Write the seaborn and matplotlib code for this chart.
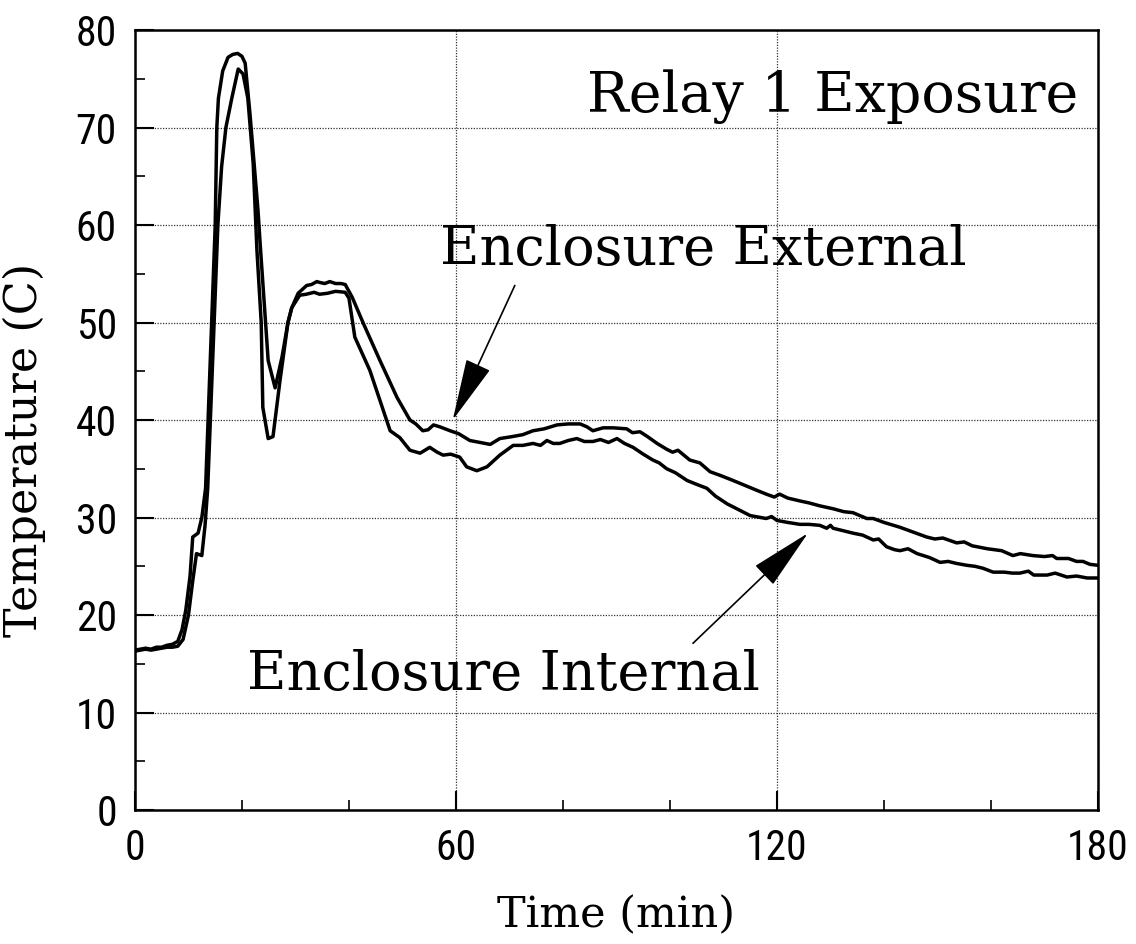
import pandas as pd
import seaborn as sns
import matplotlib.pyplot as plt
from matplotlib.ticker import MultipleLocator

# Enclosure External probe (min, C)
ext_time = [0, 1, 2, 3, 4, 5, 6, 7, 8, 8.8, 9.5, 10.3, 10.8, 11.8, 12.5, 13.2, 14, 15, 15.3, 15.6,
            16.4, 17.4, 18.3, 19.2, 20, 20.6, 21.5, 23, 23.4, 24.9, 26.2, 27.5, 28.6, 29.3, 30.5,
            31.5, 32.1, 33, 34, 34.6, 35.5, 36.4, 37.5, 38.5, 39.3, 40.6, 42.7, 45.8, 49, 51.4,
            52.5, 53.8, 54.8, 55.8, 57, 58.9, 60.5, 62.6, 64.5, 66.4, 68.2, 70.5, 72.5, 74.4, 76.5,
            78.9, 81, 83.2, 84.5, 85.6, 87.5, 89.4, 91.9, 93, 94.4, 95.8, 97.6, 99.4, 100.5, 101.5,
            103.7, 105.6, 107.5, 109.5, 111.8, 114, 116.2, 118, 119.5, 120.5, 122, 124.3, 126, 128,
            130.5, 132.5, 134.2, 136.8, 138, 140, 143, 145.5, 148, 149.5, 151, 153.6, 155, 156.5,
            159.3, 162, 164.1, 165.5, 167.8, 170, 171.5, 172.3, 174.5, 176, 177.2, 178.5, 180]
ext_temp = [16.4, 16.5, 16.6, 16.5, 16.7, 16.7, 16.9, 17.0, 17.3, 18.5, 20.5, 24, 28.0, 28.4, 30, 33, 45, 60, 70, 73,
            75.8, 77.2, 77.5, 77.6, 77.3, 76.6, 71.4, 61.5, 58.1, 46.1, 43.3, 46.5, 50, 51.5, 53.0,
            53.5, 53.8, 53.9, 54.2, 54.1, 54.0, 54.2, 54.0, 54.0, 53.9, 52.6, 49.9, 46.1, 42.3, 40.0,
            39.6, 38.9, 39.0, 39.5, 39.3, 38.9, 38.6, 37.9, 37.7, 37.5, 38.1, 38.3, 38.5, 38.9, 39.1,
            39.5, 39.6, 39.6, 39.3, 38.9, 39.2, 39.2, 39.1, 38.7, 38.8, 38.3, 37.6, 37.0, 36.7, 36.9,
            35.9, 35.6, 34.7, 34.3, 33.8, 33.3, 32.8, 32.4, 32.1, 32.4, 32.0, 31.7, 31.5, 31.2,
            30.9, 30.6, 30.5, 29.9, 29.9, 29.5, 29.0, 28.5, 28.0, 27.8, 27.9, 27.4, 27.5, 27.1,
            26.8, 26.6, 26.1, 26.3, 26.1, 26.0, 26.1, 25.8, 25.8, 25.5, 25.5, 25.2, 25.1]

# Enclosure Internal probe (min, C)
int_time = [0, 1, 2, 3, 4, 5, 6, 7, 8, 9, 10, 10.8, 11.5, 12.5, 13.1, 13.6, 14.8, 15.5, 16.2, 17,
            18.1, 19.3, 20.2, 21.1, 22.1, 22.8, 23.6, 23.9, 24.9, 25.8, 27.1, 28.6, 29.3, 30.8, 32,
            33.5, 34.5, 36, 37.5, 39.3, 40, 41.1, 43.9, 47.7, 49.5, 51.4, 53.3, 55.1, 56.5, 57.6, 59,
            60.7, 62, 63.9, 65.8, 68.2, 70.7, 72.5, 74.4, 75.8, 77, 78.2, 79.4, 81, 82.6, 84, 85.6,
            87, 88.5, 90.1, 91.5, 93.1, 95, 96.8, 98, 99.4, 101, 103.2, 105, 106.9, 108.5, 110.7,
            112.5, 115, 117, 118, 119, 120, 122, 124.3, 126, 128, 129.3, 130, 130.5, 132, 134.2,
            136, 138, 139, 140.5, 142, 143, 144.5, 146.2, 148.5, 150.5, 152, 153.5, 155.5, 157,
            158.5, 160.4, 162.5, 164, 165.4, 167, 168, 170.5, 172, 174.2, 176, 178, 180]
int_temp = [16.3, 16.4, 16.5, 16.4, 16.5, 16.6, 16.7, 16.7, 16.8, 17.5, 20.0, 23.5, 26.3, 26.1, 29.2, 33, 50, 60, 66, 70,
            73, 76, 75.5, 73, 66.3, 57.4, 50, 41.3, 38.1, 38.3, 44, 50, 51.5, 52.8, 52.9,
            53.1, 52.9, 53.0, 53.2, 53.1, 52.5, 48.5, 45.1, 38.9, 38.2, 36.9, 36.6, 37.2, 36.7, 36.4, 36.5,
            36.2, 35.2, 34.8, 35.2, 36.4, 37.4, 37.4, 37.6, 37.4, 37.9, 37.6, 37.6, 37.9, 38.1, 37.8, 37.8,
            38.0, 37.7, 38.1, 37.6, 37.2, 36.5, 35.9, 35.6, 35.0, 34.6, 33.8, 33.4, 33.0, 32.2, 31.4,
            30.9, 30.2, 30.0, 29.9, 30.1, 29.7, 29.5, 29.3, 29.3, 29.2, 28.9, 29.2, 28.9, 28.7, 28.4,
            28.2, 27.7, 27.8, 27.0, 26.7, 26.6, 26.8, 26.3, 25.9, 25.4, 25.5, 25.3, 25.1, 25.0,
            24.8, 24.4, 24.4, 24.3, 24.3, 24.5, 24.1, 24.1, 24.3, 23.9, 24.0, 23.8, 23.8]

df = pd.concat([
    pd.DataFrame({"Time": ext_time, "Temp": ext_temp, "Probe": "Enclosure External"}),
    pd.DataFrame({"Time": int_time, "Temp": int_temp, "Probe": "Enclosure Internal"}),
])

sns.set_theme(style="white")
plt.rcParams["font.family"] = ["DejaVu Serif"]

fig = plt.figure(figsize=(11.36, 9.44), dpi=100)
ax = fig.add_axes([0.1188, 0.1419, 0.8477, 0.8263])

sns.lineplot(data=df, x="Time", y="Temp", hue="Probe", units="Probe", estimator=None,
             palette={"Enclosure External": "black", "Enclosure Internal": "black"},
             linewidth=2.5, legend=False, ax=ax, sort=False)

ax.set_xlim(0, 180)
ax.set_ylim(0, 80)
ax.xaxis.set_major_locator(MultipleLocator(60))
ax.xaxis.set_minor_locator(MultipleLocator(20))
ax.yaxis.set_major_locator(MultipleLocator(10))
ax.yaxis.set_minor_locator(MultipleLocator(5))
ax.grid(True, which="major", linestyle=(0, (1, 1.2)), color="0.2", linewidth=0.9)
ax.tick_params(which="major", direction="in", length=14, width=1.5, color="black",
               bottom=True, left=True, pad=13)
ax.tick_params(which="minor", direction="in", length=7, width=1.2, color="black",
               bottom=True, left=True)
for lab in ax.get_xticklabels() + ax.get_yticklabels():
    lab.set_family(["Roboto Condensed", "Liberation Sans Narrow", "Roboto", "DejaVu Sans"])
    lab.set_fontstretch("condensed")
    lab.set_fontsize(30)
    lab.set_color("black")
for s in ax.spines.values():
    s.set_color("black")
    s.set_linewidth(1.8)

ax.set_xlabel("Time (min)", fontsize=31, color="black", labelpad=18)
ax.set_ylabel("Temperature (C)", fontsize=32, color="black")
ax.yaxis.set_label_coords(-0.092, 0.462)

ax.text(176.3, 71.6, "Relay 1 Exposure", fontsize=40, ha="right", va="baseline", color="black")
ax.text(57, 55.9, "Enclosure External", fontsize=39, ha="left", va="baseline", color="black")
ax.text(20.9, 12.3, "Enclosure Internal", fontsize=39, ha="left", va="baseline", color="black")

arrow = dict(arrowstyle="-|>,head_length=2.0,head_width=0.42", color="black", lw=1.2,
             mutation_scale=20, shrinkA=0, shrinkB=0)
ax.annotate("", xy=(59.4, 40.0), xytext=(71, 53.8), arrowprops=arrow)
ax.annotate("", xy=(125.8, 28.4), xytext=(104.3, 17.1), arrowprops=arrow)

fig.savefig("out.png", dpi=100)
